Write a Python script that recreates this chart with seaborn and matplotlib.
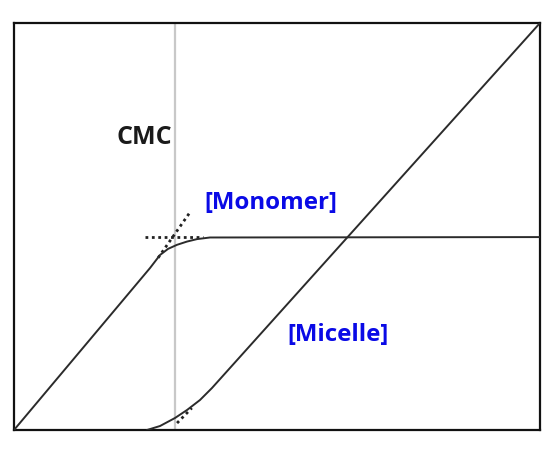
import matplotlib
matplotlib.use("Agg")
import matplotlib.pyplot as plt
import seaborn as sns
import pandas as pd

sns.set_style("white")
plt.rcParams['font.family'] = ['Open Sans', 'DejaVu Sans']

# values (x = total concentration, y = concentration), 0..10 scale
cmc_x = 3.06
plateau_y = 4.74

monomer_x = [0.0, 2.586, 2.776, 2.928, 3.099, 3.289, 3.479, 3.726, 10.0]
monomer_y = [0.0, 3.98, 4.30, 4.45, 4.55, 4.63, 4.69, 4.73, 4.74]

micelle_x = [2.529, 2.776, 3.061, 3.289, 3.536, 3.764, 10.0]
micelle_y = [0.0, 0.098, 0.295, 0.491, 0.737, 1.032, 10.0]

# dotted guide lines (tangent extensions)
guide_h_x = [2.49, 3.60]
guide_h_y = [4.74, 4.74]
guide_d_x = [2.74, 3.33]
guide_d_y = [4.23, 5.32]
guide_m_x = [3.10, 3.38]
guide_m_y = [0.17, 0.54]

labels = ["CMC", "[Monomer]", "[Micelle]"]

fig = plt.figure(figsize=(5.58, 4.65), dpi=100)
ax = fig.add_axes([14/558, 35/465, 526/558, 407/465])

ax.axvline(cmc_x, color="#c8c8c8", lw=1.6, zorder=1)

df_mon = pd.DataFrame({"x": monomer_x, "y": monomer_y})
df_mic = pd.DataFrame({"x": micelle_x, "y": micelle_y})
sns.lineplot(data=df_mon, x="x", y="y", ax=ax, color="#2b2b2b", lw=1.4, sort=False, zorder=3)
sns.lineplot(data=df_mic, x="x", y="y", ax=ax, color="#2b2b2b", lw=1.4, sort=False, zorder=3)

for gx, gy in [(guide_h_x, guide_h_y), (guide_d_x, guide_d_y), (guide_m_x, guide_m_y)]:
    ax.plot(gx, gy, color="#222222", lw=2.0, ls=(0, (1, 1.3)), zorder=2)

ax.text((144.5-14)/52.6, (430-138)/40.7, labels[0], fontsize=18, fontweight="bold",
        color="#1a1a1a", ha="center", va="center")
ax.text((271-14)/52.6, (430-203)/40.7, labels[1], fontsize=17.3, fontweight="bold",
        color="#0a0ae6", ha="center", va="center")
ax.text((338-14)/52.6, (430-335)/40.7, labels[2], fontsize=17.3, fontweight="bold",
        color="#0a0ae6", ha="center", va="center")

ax.set_xlim(0, 10)
ax.set_ylim(0, 10)
ax.set_xticks([])
ax.set_yticks([])
ax.set_xlabel("")
ax.set_ylabel("")
for s in ax.spines.values():
    s.set_color("#111111")
    s.set_linewidth(1.6)

fig.savefig("out.png", dpi=100)
